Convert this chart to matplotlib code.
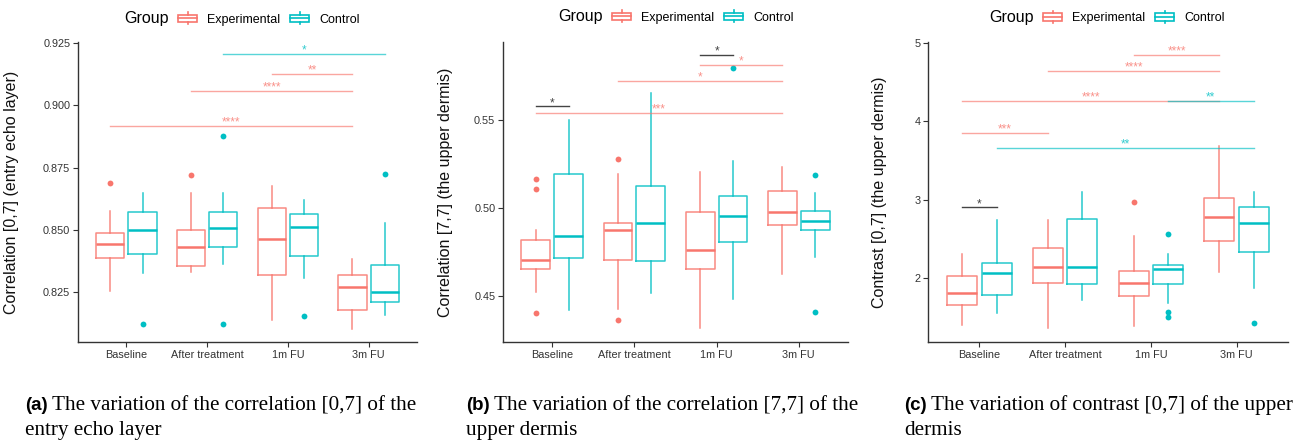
import matplotlib
matplotlib.use("Agg")
import matplotlib.pyplot as plt
from matplotlib.legend_handler import HandlerBase
from matplotlib.patches import Rectangle, Patch
from matplotlib.lines import Line2D

plt.rcParams['font.family'] = ['Liberation Sans', 'DejaVu Sans']

categories = ["Baseline", "After treatment", "1m FU", "3m FU"]
groups = ["Experimental", "Control"]
colors = ["#F8766D", "#00BFC4"]

# per category: whisker low, q1, median, q3, whisker high
a_exp = [[0.8254, 0.8388, 0.8445, 0.8486, 0.8574],
         [0.8332, 0.8356, 0.8433, 0.8499, 0.8646],
         [0.8140, 0.8317, 0.8464, 0.8587, 0.8676],
         [0.8104, 0.8178, 0.8269, 0.8318, 0.8385]]
a_exp_out = [[0.8688], [0.8720], [], []]
a_ctrl = [[0.8328, 0.8404, 0.8500, 0.8571, 0.8649],
          [0.8365, 0.8431, 0.8508, 0.8570, 0.8646],
          [0.8308, 0.8397, 0.8511, 0.8562, 0.8619],
          [0.8160, 0.8209, 0.8249, 0.8361, 0.8528]]
a_ctrl_out = [[0.8123], [0.8877, 0.8123], [0.8154], [0.8725]]

b_exp = [[0.4524, 0.4656, 0.4707, 0.4820, 0.4876],
         [0.4429, 0.4705, 0.4876, 0.4915, 0.5195],
         [0.4318, 0.4656, 0.4761, 0.4976, 0.5203],
         [0.4624, 0.4902, 0.4979, 0.5098, 0.5233]]
b_exp_out = [[0.5162, 0.5105, 0.4408], [0.5280, 0.4368], [], []]
b_ctrl = [[0.4425, 0.4718, 0.4844, 0.5192, 0.5498],
          [0.4521, 0.4697, 0.4915, 0.5122, 0.5650],
          [0.4483, 0.4810, 0.4957, 0.5068, 0.5267],
          [0.4722, 0.4878, 0.4925, 0.4981, 0.5085]]
b_ctrl_out = [[], [], [0.5793], [0.5188, 0.4412]]

c_exp = [[1.403, 1.657, 1.818, 2.025, 2.305],
         [1.361, 1.945, 2.140, 2.381, 2.745],
         [1.391, 1.776, 1.945, 2.089, 2.542],
         [2.080, 2.470, 2.774, 3.024, 3.684]]
c_exp_out = [[], [], [2.969], []]
c_ctrl = [[1.551, 1.788, 2.068, 2.195, 2.736],
          [1.721, 1.928, 2.140, 2.758, 3.092],
          [1.678, 1.932, 2.114, 2.174, 2.305],
          [1.873, 2.334, 2.698, 2.906, 3.092]]
c_ctrl_out = [[], [], [2.567, 1.564, 1.505], [1.433]]

# significance brackets: (cat1, group1, cat2, group2, y, stars)
a_sig = [(1, 1, 3, 1, 0.9207, "*"),
         (2, 0, 3, 0, 0.9125, "**"),
         (1, 0, 3, 0, 0.9057, "****"),
         (0, 0, 3, 0, 0.8918, "****")]
b_sig = [(0, 0, 0, 1, 0.5575, "*"),
         (0, 0, 3, 0, 0.5536, "***"),
         (1, 0, 3, 0, 0.5718, "*"),
         (2, 0, 3, 0, 0.5810, "*"),
         (2, 0, 2, 1, 0.5867, "*")]
c_sig = [(2, 0, 3, 0, 4.848, "****"),
         (1, 0, 3, 0, 4.645, "****"),
         (0, 0, 3, 0, 4.260, "****"),
         (2, 1, 3, 1, 4.260, "**"),
         (0, 0, 1, 0, 3.854, "***"),
         (0, 1, 3, 1, 3.663, "**"),
         (0, 0, 0, 1, 2.901, "*")]

a_ticks = [0.825, 0.850, 0.875, 0.900, 0.925]
b_ticks = [0.45, 0.50, 0.55]
c_ticks = [2, 3, 4, 5]

ylabels = ["Correlation [0,7] (entry echo layer)",
           "Correlation [7,7] (the upper dermis)",
           "Contrast [0,7] (the upper dermis)"]
captions = [("(a)", "The variation of the correlation [0,7] of the", "entry echo layer"),
            ("(b)", "The variation of the correlation [7,7] of the", "upper dermis"),
            ("(c)", "The variation of contrast [0,7] of the upper", "dermis")]

W, H = 1309, 441
offset = 0.2


class BoxKey(HandlerBase):
    def create_artists(self, legend, orig_handle, xd, yd, w, h, fontsize, trans):
        c = orig_handle.get_edgecolor()
        x0, y0 = -xd, -yd
        rect = Rectangle((x0, y0 + 0.18 * h), w, 0.64 * h, fc="white", ec=c,
                         lw=1.2, transform=trans)
        mid = Line2D([x0, x0 + w], [y0 + h / 2] * 2, color=c, lw=1.2, transform=trans)
        top = Line2D([x0 + w / 2] * 2, [y0 + 0.82 * h, y0 + h], color=c, lw=1.2, transform=trans)
        bot = Line2D([x0 + w / 2] * 2, [y0, y0 + 0.18 * h], color=c, lw=1.2, transform=trans)
        return [rect, mid, top, bot]


def stats(summary, outliers):
    out = []
    for s, o in zip(summary, outliers):
        out.append(dict(whislo=s[0], q1=s[1], med=s[2], q3=s[3], whishi=s[4], fliers=o))
    return out


def panel(ax, exp, exp_out, ctrl, ctrl_out, sig, ticks, ylim):
    pos = list(range(1, len(categories) + 1))
    for g, (summ, outl) in enumerate([(exp, exp_out), (ctrl, ctrl_out)]):
        c = colors[g]
        p = [x + (offset if g else -offset) for x in pos]
        ax.bxp(stats(summ, outl), positions=p, widths=0.35, showcaps=False,
               manage_ticks=False,
               boxprops=dict(color=c, lw=1.1, alpha=0.85),
               whiskerprops=dict(color=c, lw=1.1, alpha=0.85),
               medianprops=dict(color=c, lw=1.8),
               flierprops=dict(marker="o", markerfacecolor=c, markeredgecolor="none",
                               markersize=4.2))
    for c1, g1, c2, g2, y, lab in sig:
        x1 = c1 + 1 + (offset if g1 else -offset)
        x2 = c2 + 1 + (offset if g2 else -offset)
        col = colors[g1] if g1 == g2 else "#444444"
        al = 0.65 if g1 == g2 else 1.0
        ax.plot([x1, x2], [y, y], color=col, lw=1.0, alpha=al)
        ax.annotate(lab, ((x1 + x2) / 2, y), xytext=(0, 0.3), textcoords="offset points",
                    ha="center", va="baseline", fontsize=8.5, color=col, alpha=min(1, al + 0.15))
    ax.set_xlim(0.4, 4.6)
    ax.set_ylim(*ylim)
    ax.set_xticks(pos)
    ax.set_xticklabels(categories)
    ax.set_yticks(ticks)
    ax.spines["top"].set_visible(False)
    ax.spines["right"].set_visible(False)
    for s in ("left", "bottom"):
        ax.spines[s].set_color("#333333")
        ax.spines[s].set_linewidth(1.0)
    ax.tick_params(length=3.5, width=0.8, color="#333333", labelcolor="#333333",
                   labelsize=7.8, pad=2)


fig = plt.figure(figsize=(W / 100, H / 100), dpi=100)

boxes = [(78, 417), (503, 848), (928, 1288)]
top_px, bot_px = 42, 342
data = [(a_exp, a_exp_out, a_ctrl, a_ctrl_out, a_sig, a_ticks, (0.805, 0.9254)),
        (b_exp, b_exp_out, b_ctrl, b_ctrl_out, b_sig, b_ticks, (0.4241, 0.594)),
        (c_exp, c_exp_out, c_ctrl, c_ctrl_out, c_sig, c_ticks, (1.1875, 5.009))]
ylab_x = [19, 453, 887]
group_x = [124, 558, 989]
key_x = [178, 612, 1043]
leg_y = [19, 17, 17.5]
cap_x = [25, 466, 904]

handles = [Patch(facecolor="white", edgecolor=c) for c in colors]

for i, (l, r) in enumerate(boxes):
    ax = fig.add_axes([l / W, 1 - bot_px / H, (r - l) / W, (bot_px - top_px) / H])
    panel(ax, *data[i])
    ax.set_ylabel(ylabels[i], fontsize=11.5, color="#111111")
    ax.yaxis.set_label_coords((ylab_x[i] - l) / (r - l), 0.5)
    fig.text(group_x[i] / W, 1 - leg_y[i] / H, "Group", fontsize=11.5,
             ha="left", va="center")
    fig.legend(handles, groups, handler_map={Patch: BoxKey()}, loc="center left",
               bbox_to_anchor=(key_x[i] / W, 1 - leg_y[i] / H), ncol=2, frameon=False,
               fontsize=9, handlelength=1.52, handleheight=1.1, handletextpad=0.8,
               columnspacing=0.8, borderpad=0, borderaxespad=0)

# captions
fig.canvas.draw()
for i, (tag, line1, line2) in enumerate(captions):
    t = fig.text(cap_x[i] / W, 1 - 410 / H, tag, fontsize=13.5, weight="bold",
                 ha="left", va="baseline")
    bb = t.get_window_extent(fig.canvas.get_renderer())
    fig.text((bb.x1 + 4) / W, 1 - 410 / H, line1, fontsize=15.2,
             family="Liberation Serif", ha="left", va="baseline")
    fig.text(cap_x[i] / W, 1 - 435 / H, line2, fontsize=15.2,
             family="Liberation Serif", ha="left", va="baseline")

fig.savefig("out.png", dpi=100)
